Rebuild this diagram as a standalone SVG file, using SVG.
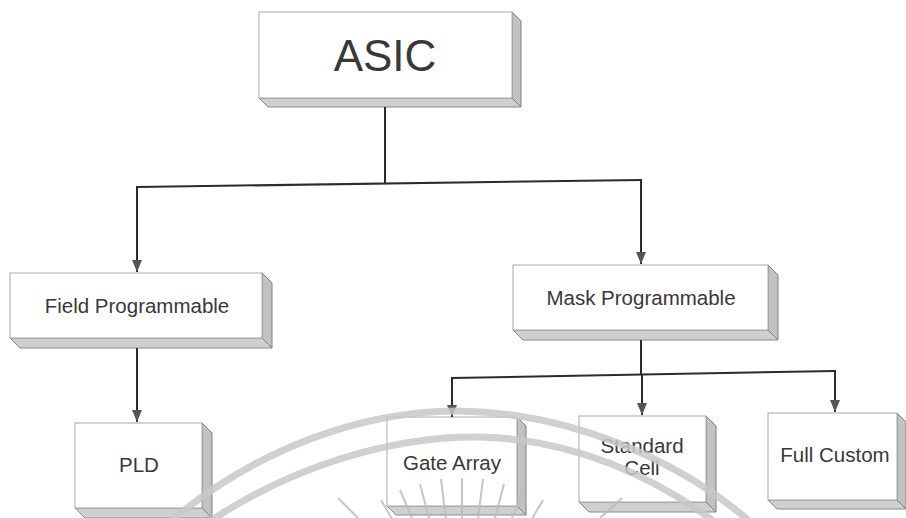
<svg xmlns="http://www.w3.org/2000/svg" width="906" height="518" viewBox="0 0 906 518">
<style>
.front{fill:#ffffff;stroke:#a8a8a8;stroke-width:1}
.side{fill:#c2c2c2;stroke:#7f7f7f;stroke-width:1}
.bottom{fill:#cfcfcf;stroke:#8a8a8a;stroke-width:1}
.lbl{font-family:"Liberation Sans",Arial,sans-serif;font-size:20.5px;fill:#383838;text-anchor:middle}
.big{font-family:"Liberation Sans",Arial,sans-serif;font-size:44px;fill:#383838;text-anchor:middle}
.conn{fill:none;stroke:#2b2b2b;stroke-width:2}
.arrow{marker-end:url(#ah)}
.wm{fill:none;stroke:#c8c8c8;stroke-width:7;opacity:0.85}
.ray{stroke:#bdbdbd;stroke-width:2;opacity:0.85}
</style>
<defs>
<marker id="ah" markerUnits="userSpaceOnUse" markerWidth="13" markerHeight="10" refX="12" refY="5" orient="auto">
<path d="M0,0 L12,5 L0,10 z" fill="#555"/>
</marker>
</defs>
<rect width="906" height="518" fill="#ffffff"/>

<g id="node-asic">
<polygon class="bottom" points="259,98 512,98 521,107 268,107"/>
<polygon class="side" points="512,12 521,21 521,107 512,98"/>
<rect class="front" x="259" y="12" width="253" height="86"/>
<text class="big" x="385" y="71">ASIC</text>
</g>

<g id="node-field">
<polygon class="bottom" points="10,338 262,338 272,348 20,348"/>
<polygon class="side" points="262,273 272,283 272,348 262,338"/>
<rect class="front" x="10" y="273" width="252" height="65"/>
<text class="lbl" x="137" y="313">Field Programmable</text>
</g>

<g id="node-mask">
<polygon class="bottom" points="513,330 768,330 778,340 523,340"/>
<polygon class="side" points="768,265 778,275 778,340 768,330"/>
<rect class="front" x="513" y="265" width="255" height="65"/>
<text class="lbl" x="641" y="305">Mask Programmable</text>
</g>

<g id="node-pld">
<polygon class="bottom" points="75,508 202,508 212,518 85,518"/>
<polygon class="side" points="202,423 212,433 212,518 202,508"/>
<rect class="front" x="75" y="423" width="127" height="85"/>
<text class="lbl" x="139" y="472">PLD</text>
</g>

<g id="node-gate">
<polygon class="bottom" points="387,506 517,506 526,515 396,515"/>
<polygon class="side" points="517,417 526,426 526,515 517,506"/>
<rect class="front" x="387" y="417" width="130" height="89"/>
<text class="lbl" x="452" y="470">Gate Array</text>
</g>

<g id="node-standard">
<polygon class="bottom" points="579,502 706,502 716,512 589,512"/>
<polygon class="side" points="706,416 716,426 716,512 706,502"/>
<rect class="front" x="579" y="416" width="127" height="86"/>
<text class="lbl" x="642" y="453">Standard</text>
<text class="lbl" x="642" y="475">Cell</text>
</g>

<g id="node-full">
<polygon class="bottom" points="768,500 897,500 906,509 777,509"/>
<polygon class="side" points="897,413 906,422 906,509 897,500"/>
<rect class="front" x="768" y="413" width="129" height="87"/>
<text class="lbl" x="835" y="462">Full Custom</text>
</g>

<g id="connectors">
<path class="conn" d="M385,107 V184"/>
<path class="conn" d="M137,187 L641,180"/>
<path class="conn arrow" d="M137,186 V272"/>
<path class="conn arrow" d="M641,179 V264"/>
<path class="conn arrow" d="M137,348 V422"/>
<path class="conn" d="M641,340 V375"/>
<path class="conn" d="M452,378 L835,371"/>
<path class="conn arrow" d="M452,377 V417"/>
<path class="conn arrow" d="M642,375 V415"/>
<path class="conn arrow" d="M835,370 V412"/>
</g>

<g id="watermark">
<path class="wm" d="M172,520 C258,448 365,410 460,411 C575,413 680,462 748,520"/>
<path class="wm" d="M212,520 C292,467 390,436 480,437 C575,439 655,478 712,520"/>
<line class="ray" x1="401" y1="534" x2="381" y2="500"/>
<line class="ray" x1="416" y1="527" x2="400" y2="490"/>
<line class="ray" x1="430" y1="522" x2="420" y2="484"/>
<line class="ray" x1="446" y1="519" x2="441" y2="479"/>
<line class="ray" x1="462" y1="518" x2="462" y2="478"/>
<line class="ray" x1="478" y1="519" x2="483" y2="479"/>
<line class="ray" x1="494" y1="522" x2="504" y2="484"/>
<line class="ray" x1="508" y1="527" x2="524" y2="490"/>
<line class="ray" x1="523" y1="534" x2="543" y2="500"/>
<line class="ray" x1="358" y1="518" x2="338" y2="498"/>
<line class="ray" x1="600" y1="518" x2="622" y2="498"/>
</g>
</svg>
